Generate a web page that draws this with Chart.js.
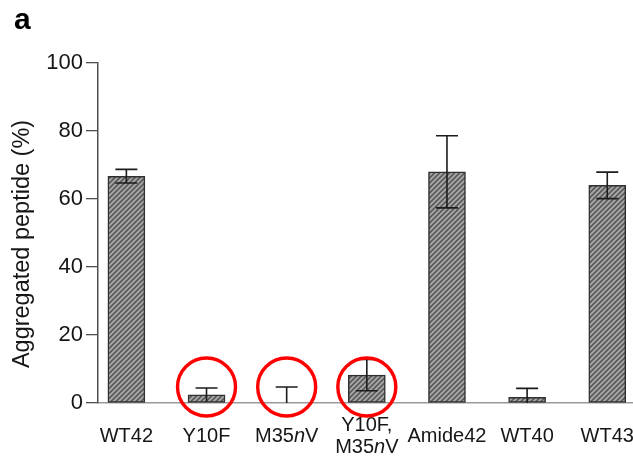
<!DOCTYPE html>
<html>
<head>
<meta charset="utf-8">
<script src="https://cdn.jsdelivr.net/npm/chart.js@4.4.1/dist/chart.umd.min.js"></script>
<style>
html, body { margin: 0; padding: 0; background: #fff; }
canvas { display: block; }
</style>
</head>
<body>
<canvas id="c" width="633" height="456"></canvas>
<script>
// Peptide variants on the x axis (an array entry = stacked label lines)
const categories = ['WT42', 'Y10F', 'M35nV', ['Y10F,', 'M35nV'], 'Amide42', 'WT40', 'WT43'];
// Mean aggregated peptide (%) for each variant
const aggregated = [66.7, 2.4, 0, 8.2, 68.0, 1.7, 64.0];
// Error (± %) for each variant
const errors = [2.0, 2.0, 4.7, 4.6, 10.6, 2.6, 3.9];
// Variants ringed in red
const highlighted = ['Y10F', 'M35nV', 'Y10F,M35nV'];
// Value axis ticks
const yTicks = [0, 20, 40, 60, 80, 100];

const FAMILY = '"Liberation Sans", Arial, Helvetica, sans-serif';
const TEXT = '#161616';

// Grey bar fill with light diagonal hatching
function hatch() {
  const s = 5;
  const t = document.createElement('canvas');
  t.width = s; t.height = s;
  const g = t.getContext('2d');
  g.fillStyle = '#5a5a5a';
  g.fillRect(0, 0, s, s);
  g.strokeStyle = '#a9a9a9';
  g.lineWidth = 1.8;
  g.beginPath();
  g.moveTo(-1, s + 1); g.lineTo(s + 1, -1);
  g.moveTo(-1, 1); g.lineTo(1, -1);
  g.moveTo(s - 1, s + 1); g.lineTo(s + 1, s - 1);
  g.stroke();
  return t.getContext('2d').createPattern(t, 'repeat');
}

const labelKey = c => Array.isArray(c) ? c.join('') : c;

// Mean ± error whiskers on top of each bar
const errorBars = {
  id: 'errorBars',
  afterDatasetsDraw(chart) {
    const { ctx, scales: { x, y } } = chart;
    const half = 11;
    ctx.save();
    ctx.strokeStyle = '#1c1c1c';
    ctx.lineWidth = 1.6;
    aggregated.forEach((v, i) => {
      const e = errors[i];
      const px = x.getPixelForValue(i);
      const lowVal = Math.max(0, v - e);
      const yHi = y.getPixelForValue(v + e);
      const yLo = y.getPixelForValue(lowVal);
      ctx.beginPath();
      ctx.moveTo(px, yLo); ctx.lineTo(px, yHi);
      ctx.moveTo(px - half, yHi); ctx.lineTo(px + half, yHi);
      if (v - e > 0.5) { ctx.moveTo(px - half, yLo); ctx.lineTo(px + half, yLo); }
      ctx.stroke();
    });
    ctx.restore();
  }
};

// Draws one label line, setting the "n" of "nV" in italics
function drawRichLine(ctx, text, cx, cy, size) {
  const parts = text.split(/(?<=\d)(n)(?=V)/);
  const fonts = parts.map((_, k) => (k % 2 ? 'italic ' : '') + size + 'px ' + FAMILY);
  let total = 0;
  const widths = parts.map((p, k) => { ctx.font = fonts[k]; const w = ctx.measureText(p).width; total += w; return w; });
  let xPos = cx - total / 2;
  parts.forEach((p, k) => {
    ctx.font = fonts[k];
    ctx.fillText(p, xPos, cy);
    xPos += widths[k];
  });
}

// Category labels, axis title, panel letter and red rings
const decorations = {
  id: 'decorations',
  afterDraw(chart) {
    const { ctx, scales: { x, y } } = chart;
    ctx.save();
    ctx.fillStyle = TEXT;
    ctx.textAlign = 'left';
    ctx.textBaseline = 'middle';
    const base = y.getPixelForValue(0);
    categories.forEach((c, i) => {
      const px = x.getPixelForValue(i);
      const lines = Array.isArray(c) ? c : [c];
      if (lines.length === 1) {
        drawRichLine(ctx, lines[0], px, base + 33, 20);
      } else {
        lines.forEach((ln, k) => drawRichLine(ctx, ln, px, base + 22 + k * 22, 20));
      }
    });

    // value axis title
    ctx.save();
    ctx.translate(23, 244);
    ctx.rotate(-Math.PI / 2);
    ctx.textAlign = 'center';
    ctx.font = '23.5px ' + FAMILY;
    ctx.fillText('Aggregated peptide (%)', 0, 0);
    ctx.restore();

    // panel letter
    ctx.textBaseline = 'alphabetic';
    ctx.font = 'bold 30px ' + FAMILY;
    ctx.fillStyle = '#000';
    ctx.fillText('a', 14, 29);

    // rings around the highlighted variants
    ctx.strokeStyle = '#ff0000';
    ctx.lineWidth = 3.4;
    categories.forEach((c, i) => {
      if (!highlighted.includes(labelKey(c))) return;
      ctx.beginPath();
      ctx.arc(x.getPixelForValue(i), base - 16, 29, 0, Math.PI * 2);
      ctx.stroke();
    });
    ctx.restore();
  }
};

new Chart(document.getElementById('c'), {
  type: 'bar',
  data: {
    datasets: [{
      data: aggregated.map((v, i) => ({ x: i, y: v })),
      backgroundColor: hatch(),
      borderColor: '#303030',
      borderWidth: 1.5,
      borderSkipped: false,
      barThickness: 37
    }]
  },
  options: {
    responsive: false,
    animation: false,
    events: [],
    layout: { padding: { left: 0, right: 0, top: 63, bottom: 53 } },
    plugins: { legend: { display: false }, tooltip: { enabled: false } },
    scales: {
      x: {
        type: 'linear',
        offset: false,
        min: -0.354,
        max: 6.321,
        afterBuildTicks: s => { s.ticks = categories.map((_, i) => ({ value: i })); },
        afterFit: s => { s.height = 0; },
        grid: { display: false, offset: false },
        ticks: { display: false },
        border: { display: true, color: '#9a9a9a', width: 1.5 }
      },
      y: {
        min: 0,
        max: 100,
        afterBuildTicks: s => { s.ticks = yTicks.map(v => ({ value: v })); },
        afterFit: s => { s.width = 98; },
        grid: { display: true, drawOnChartArea: false, drawTicks: true, tickLength: 12, color: '#505050', lineWidth: 1.3 },
        border: { display: true, color: '#505050', width: 1.5 },
        ticks: { padding: 3, color: TEXT, font: { family: FAMILY, size: 22 } }
      }
    }
  },
  plugins: [errorBars, decorations]
});
</script>
</body>
</html>
